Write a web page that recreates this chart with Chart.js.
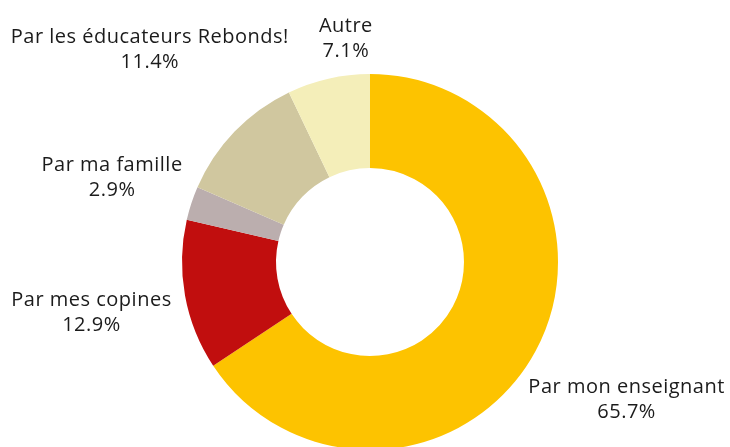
<!DOCTYPE html>
<html>
<head>
<meta charset="utf-8">
<script src="https://cdn.jsdelivr.net/npm/chart.js@4/dist/chart.umd.min.js"></script>
<style>
  html, body { margin: 0; padding: 0; overflow: hidden; background: #fff; }
  #wrap { position: relative; width: 730px; height: 530px; }
</style>
</head>
<body>
<div id="wrap"><canvas id="chart"></canvas></div>
<script>
// data van de grafiek
var categories = ['Par mon enseignant', 'Par mes copines', 'Par ma famille', 'Par les éducateurs Rebonds!', 'Autre'];
var percentages = [65.7, 12.9, 2.9, 11.4, 7.1];
var colours = ['#FDC300', '#C10E0E', '#BBAEAE', '#D0C79F', '#F4EEB9'];

var FONT = '20px "Open Sans", sans-serif';
var LINE = 25;
var GAP = 30; // minimale ruimte tussen twee labels

// plugin om de labels buiten de ring te tekenen
var outsideLabels = {
    id: 'outsideLabels',
    afterDraw: function (chart) {
        var ctx = chart.ctx;
        var meta = chart.getDatasetMeta(0);
        ctx.save();
        ctx.font = FONT;
        ctx.letterSpacing = '0.5px';
        ctx.fillStyle = '#1b1b1b';
        ctx.textAlign = 'center';
        ctx.textBaseline = 'middle';

        // eerst alle posities berekenen
        var boxes = meta.data.map(function (arc, i) {
            var lines = [categories[i], percentages[i].toFixed(1) + '%'];
            var w = Math.max(ctx.measureText(lines[0]).width, ctx.measureText(lines[1]).width);
            var halfW = w / 2;
            var halfH = LINE;
            var mid = (arc.startAngle + arc.endAngle) / 2;
            var dx = Math.cos(mid), dy = Math.sin(mid);
            // afstand tot het midden van het label: buitenrand + halve doos in die richting
            var r = arc.outerRadius + 16 + Math.sqrt(Math.pow(dx * halfW, 2) + Math.pow(dy * halfH, 2));
            return { lines: lines, x: arc.x + dx * r, y: arc.y + dy * r, hw: halfW, hh: halfH, dx: dx };
        });

        // labels die te dicht bij elkaar staan horizontaal uit elkaar schuiven
        for (var i = 0; i < boxes.length; i++) {
            for (var j = i + 1; j < boxes.length; j++) {
                var a = boxes[i], b = boxes[j];
                if (Math.abs(a.y - b.y) >= a.hh + b.hh) continue;
                var gap = Math.abs(a.x - b.x) - a.hw - b.hw;
                if (gap >= GAP) continue;
                var move = Math.abs(a.dx) < Math.abs(b.dx) ? a : b;
                var other = move === a ? b : a;
                move.x += (move.x >= other.x ? 1 : -1) * (GAP - gap);
            }
        }

        boxes.forEach(function (b) {
            ctx.fillText(b.lines[0], b.x, b.y - LINE / 2);
            ctx.fillText(b.lines[1], b.x, b.y + LINE / 2);
        });
        ctx.restore();
    }
};

var chart = new Chart(document.getElementById('chart'), {
    type: 'doughnut',
    data: {
        labels: categories,
        datasets: [{
            data: percentages,
            backgroundColor: colours,
            borderWidth: 0
        }]
    },
    options: {
        responsive: true,
        maintainAspectRatio: false,
        animation: false,
        cutout: '50%',
        layout: { padding: { top: 74, bottom: 80, left: 182, right: 172 } },
        plugins: {
            legend: { display: false },
            tooltip: { enabled: false }
        }
    },
    plugins: [outsideLabels]
});
</script>
</body>
</html>
